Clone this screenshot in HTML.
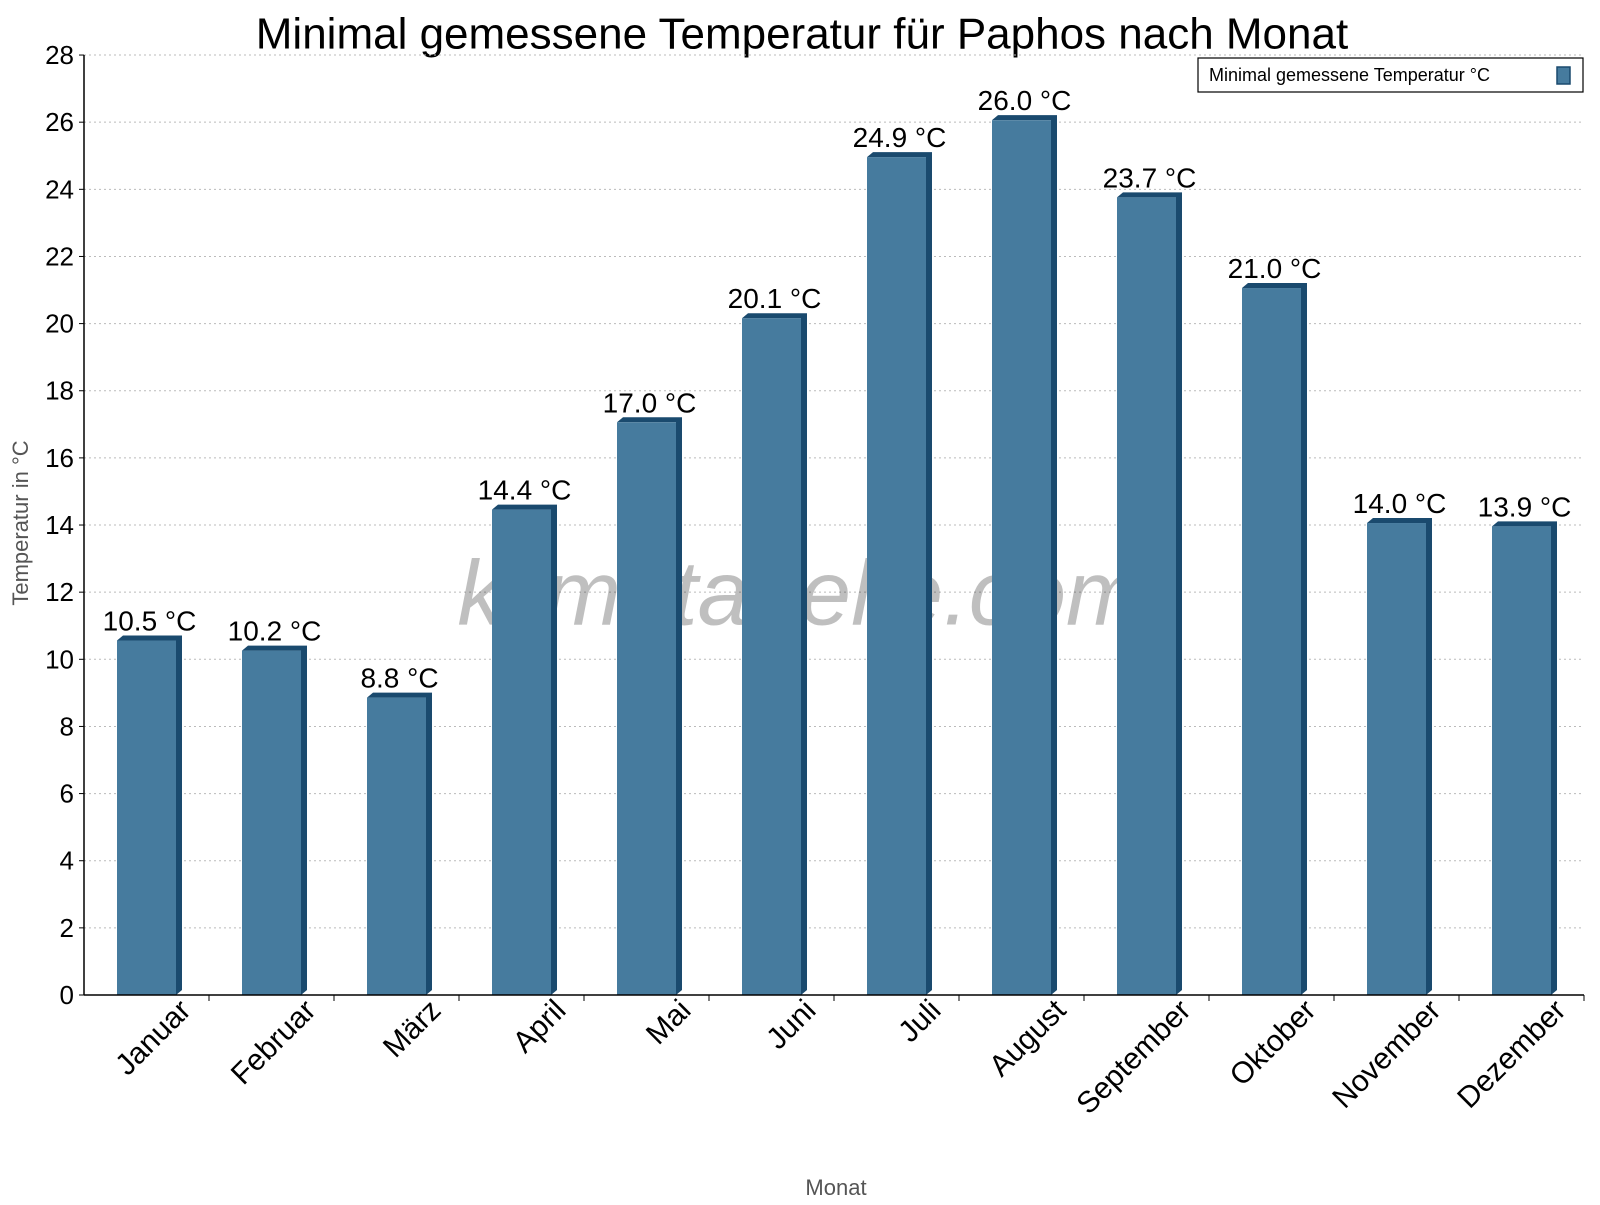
<!DOCTYPE html>
<html><head><meta charset="utf-8"><style>
body{margin:0;background:#fff}
svg text{font-family:"Liberation Sans",sans-serif}
</style></head><body>
<svg id="chart" width="1600" height="1200" xmlns="http://www.w3.org/2000/svg">
<rect width="1600" height="1200" fill="#fff"/>
<text x="802" y="37" font-size="44" text-anchor="middle" dominant-baseline="middle">Minimal gemessene Temperatur für Paphos nach Monat</text>
<g id="grid"></g>
<text x="800" y="600" font-size="92" font-style="italic" fill="#000" fill-opacity="0.25" text-anchor="middle" dominant-baseline="middle">klimatabelle.com</text>
<g id="bars"></g>
<g id="axes"></g>
<text transform="translate(28,523) rotate(-90)" font-size="22" fill="#555" text-anchor="middle">Temperatur in °C</text>
<text x="836" y="1195" font-size="22" fill="#555" text-anchor="middle">Monat</text>
<g>
<rect x="1198" y="58" width="385" height="34" fill="#fff" stroke="#000" stroke-width="1.2"/>
<text x="1209" y="81" font-size="18">Minimal gemessene Temperatur °C</text>
<rect x="1557" y="67" width="13" height="17" fill="#467b9e" stroke="#1a4a6e" stroke-width="1.5"/>
</g>
</svg>
<script>
const categories=["Januar","Februar","März","April","Mai","Juni","Juli","August","September","Oktober","November","Dezember"];
const values=[10.5,10.2,8.8,14.4,17.0,20.1,24.9,26.0,23.7,21.0,14.0,13.9];
const yTicks=[0,2,4,6,8,10,12,14,16,18,20,22,24,26,28];
const NS="http://www.w3.org/2000/svg";
const L=84,R=1584,Y0=995,PU=33.57;
const cw=(R-L)/categories.length;
const y=v=>Y0-v*PU;
function mk(t,a,p){const e=document.createElementNS(NS,t);for(const k in a)e.setAttribute(k,a[k]);p.appendChild(e);return e;}
const grid=document.getElementById('grid'),bars=document.getElementById('bars'),axes=document.getElementById('axes');
yTicks.forEach(v=>{
  if(v>0){const g=mk('line',{x1:L,x2:R,y1:y(v),y2:y(v),stroke:'#bbb','stroke-dasharray':'2,3'},grid);
  
  }
  const t=mk('line',{x1:L-5,x2:L,y1:y(v),y2:y(v),stroke:'#000'},axes);
  
  
  const l=mk('text',{x:L-10,y:y(v)+9,'font-size':26,'text-anchor':'end'},axes);
  l.textContent=v;
  
  
});
const ax=mk('line',{x1:L,x2:L,y1:y(28),y2:Y0,stroke:'#000','stroke-width':1.5},axes);


const xx=mk('line',{x1:L,x2:R,y1:Y0,y2:Y0,stroke:'#000','stroke-width':1.5},axes);


categories.forEach((c,i)=>{
  const s=L+i*cw,v=values[i];
  const fx=s+33,fw=59,ft=y(v)-2,d=6,o=5;
  const g=mk('g',{},bars);
  
  
  mk('polygon',{points:`${fx},${ft} ${fx+d},${ft-o} ${fx+fw+d},${ft-o} ${fx+fw+d},${Y0-o} ${fx+fw},${Y0} ${fx+fw},${ft}`,fill:'#1a4a6e'},g);
  mk('rect',{x:fx,y:ft,width:fw,height:Y0-ft,fill:'#467b9e'},g);
  const vl=mk('text',{x:fx+(fw+d)/2,y:ft-o-5,'font-size':28,'text-anchor':'middle'},bars);
  vl.textContent=v.toFixed(1)+' °C';
  
  
  const tk=mk('line',{x1:s+cw,x2:s+cw,y1:Y0,y2:Y0+6,stroke:'#000'},axes);
  
  
  const cx=s+cw/2+46;
  const xl=mk('text',{x:cx,y:1012,'font-size':30,'text-anchor':'end',transform:`rotate(-45 ${cx} 1012)`},axes);
  xl.textContent=c;
  
  
});
</script>
</body></html>
